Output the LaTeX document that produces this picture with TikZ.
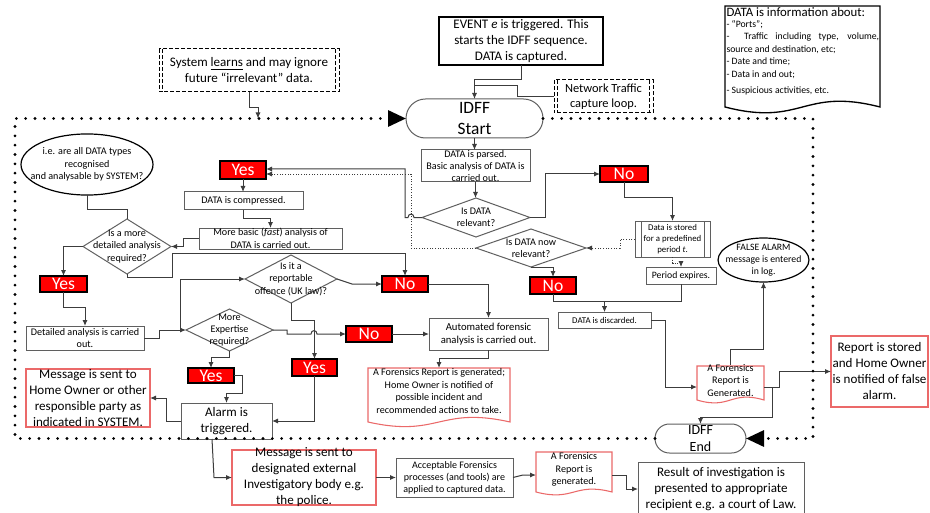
\documentclass[tikz,border=0pt]{standalone}
\usepackage{fontspec}
\setmainfont{Carlito}
\usetikzlibrary{arrows.meta}
\definecolor{cgray}{RGB}{95,95,95}
\definecolor{cline}{RGB}{60,60,60}
\definecolor{cred}{RGB}{235,105,105}
\newcommand\fzA{\fontsize{9.8}{12}\selectfont}
\newcommand\fzB{\fontsize{7.6}{9.3}\selectfont}
\newcommand\fzC{\fontsize{6.6}{8.2}\selectfont}
\newcommand\fzD{\fontsize{13}{15.5}\selectfont}
\newcommand\fzY{\fontsize{13.2}{13.5}\selectfont}
% box: name x1 y1 x2 y2 shapestyle nodeopts text
\newcommand\bx[8]{%
 \path[#6] (#2,#3) rectangle (#4,#5);
 \node[minimum width={(#4-#2)*0.75pt}, minimum height={(#5-#3)*0.75pt}, align=center, #7] (#1) at ({(#2+#4)/2},{(#3+#5)/2}) {#8};}
% diamond: name x1 y1 x2 y2 nodeopts text
\newcommand\dia[7]{%
 \draw[gline] ({(#2+#4)/2},#3) -- (#4,{(#3+#5)/2}) -- ({(#2+#4)/2},#5) -- (#2,{(#3+#5)/2}) -- cycle;
 \node[minimum width={(#4-#2)*0.75pt}, minimum height={(#5-#3)*0.75pt}, align=center, #6] (#1) at ({(#2+#4)/2},{(#3+#5)/2}) {#7};}
% document: name x1 y1 x2 yb a nodeopts text
\newcommand\docb[8]{%
 \draw[rline] (#2,#3) -- (#4,#3) -- (#4,#5) .. controls ({(#2+#4)/2},{#5-2*#6}) and ({(#2+#4)/2},{#5+2*#6}) .. (#2,#5) -- cycle;
 \node[minimum width={(#4-#2)*0.75pt}, minimum height={(#5-#6-#3)*0.75pt}, align=center, #7] (#1) at ({(#2+#4)/2},{(#3+#5-#6)/2}) {#8};}
\begin{document}
\begin{tikzpicture}[x=0.75pt,y=-0.75pt,
 every node/.style={inner sep=0pt,outer sep=0pt},
 gb/.style={draw=cgray,line width=0.75pt,fill=white},
 rb/.style={draw=cred,line width=0.8pt,fill=white},
 kb/.style={draw=black,line width=1.3pt,fill=white},
 redb/.style={draw=black,line width=1.3pt,fill=red},
 gline/.style={draw=cgray,line width=0.75pt},
 rline/.style={draw=cred,line width=0.8pt},
 dashbox/.style={draw=black,line width=0.75pt,dash pattern=on 3pt off 1.5pt},
 conn/.style={draw=cline,line width=0.75pt},
 arr/.style={conn,-{Latex[length=4.5pt,width=3.8pt]}},
 darr/.style={draw=cline,line width=0.6pt,dash pattern=on 0.8pt off 1.2pt,-{Latex[length=4.5pt,width=3.8pt]}},
 dotframe/.style={draw=black,line width=2.3pt,dash pattern=on 0pt off 7pt,line cap=round},
 redtxt/.style={font=\fzY,text=white}]
\useasboundingbox (0,0) rectangle (930,513);
\fill[white] (0,0) rectangle (930,513);

% ---------- top notes ----------
\bx{learn}{159}{49}{339}{92}{dashbox,fill=white}{font=\fzA}{System \underline{learns} and may ignore\\future “irrelevant” data.}
\draw[dashbox] (162.5,49) -- (162.5,92) (335.5,49) -- (335.5,92);
\bx{event}{439}{17}{603}{65}{kb}{font=\fzA}{EVENT \textit{e} is triggered. This\\starts the IDFF sequence.\\DATA is captured.}
\bx{net}{554}{80}{653}{113}{dashbox,fill=white}{font=\fontsize{9.3}{11.2}\selectfont}{Network Traffic\\capture loop.}
\draw[dashbox] (557.5,80) -- (557.5,113) (649.5,80) -- (649.5,113);
\bx{start}{406}{99}{543}{138}{gb,rounded corners=14.6pt}{font=\fzD}{IDFF\\Start}

% DATA info document
\draw[black,line width=1pt] (725,6) -- (880,6) -- (880,107) .. controls (802.5,87) and (802.5,127) .. (725,107) -- cycle;
\node[anchor=north west,text width=114.5pt,align=flush left] (info) at (726.5,7.5) {{\fontsize{9.6}{11}\selectfont DATA is information about:}\\[-1pt]
\fontsize{7.3}{9.3}\selectfont - “Ports”;\\\makebox[\linewidth][s]{- \ Traffic including type, volume,}\\source and destination, etc;\\- Date and time;\\- Data in and out;\\- Suspicious activities, etc.};

% ---------- central column ----------
\bx{parsed}{421}{150}{530}{182}{gb}{font=\fzB}{DATA is parsed.\\Basic analysis of DATA is\\carried out.}
\dia{dia5}{422}{198}{530}{237}{font=\fzB}{Is DATA\\relevant?}
\dia{dia4}{476}{229}{586}{267}{font=\fzB}{Is DATA now\\relevant?}
\bx{noR}{600}{166}{648}{182}{redb}{redtxt}{No}
\bx{dstore}{635}{221}{710}{257}{gb}{font=\fzC}{Data is stored\\for a predefined\\period \textit{t}.}
\draw[gline] (641,221) -- (641,257) (704,221) -- (704,257);
\bx{period}{646}{267}{716}{284}{gb}{font=\fontsize{7.3}{8.8}\selectfont}{Period expires.}
\bx{noL}{530}{277}{576}{294}{redb}{redtxt}{No}
\bx{discard}{558}{312}{651}{328}{gb}{font=\fzC}{DATA is discarded.}
\node[minimum width=68.25pt,minimum height=33pt,align=center,font=\fontsize{7.3}{8.8}\selectfont] (falseE) at (763.5,260) {FALSE ALARM\\message is entered\\in log.};
\draw[black,line width=0.9pt] (falseE.center) ellipse [x radius=34.1pt, y radius=16.5pt];
\docb{fdoc1}{697}{366}{764}{400}{5}{font=\fzB}{A Forensics\\Report is\\Generated.}
\bx{stored}{831}{336}{928}{407}{rb}{font=\fzA}{Report is stored\\and Home Owner\\is notified of false\\alarm.}
\bx{endn}{655}{424}{746}{453}{gb,rounded corners=10.8pt}{font=\fontsize{10.5}{12.6}\selectfont}{IDFF\\End}

% ---------- left part ----------
\node[minimum width=99pt,minimum height=45.75pt,align=center,font=\fzB] (ell1) at (87,164.5) {i.e. are all DATA types\\recognised\\and analysable by SYSTEM?};
\draw[black,line width=0.9pt] (ell1.center) ellipse [x radius=49.5pt, y radius=22.9pt];
\bx{yes1}{220}{161}{266}{179}{redb}{redtxt}{Yes}
\bx{comp}{184}{192}{303}{210}{gb}{font=\fzB}{DATA is compressed.}
\bx{basic}{199}{228}{342}{249}{gb}{font=\fzB}{More basic (\textit{fast}) analysis of\\DATA is carried out.}
\dia{dia1}{83}{219}{171}{274}{font=\fzB}{Is a more\\detailed analysis\\required?}
\bx{yes2}{40}{276}{87}{292}{redb}{redtxt}{Yes}
\bx{detail}{26}{326}{144}{350}{gb}{font=\fzB}{Detailed analysis is carried\\out.}
\dia{dia2}{245}{255}{337}{303}{font=\fzB}{Is it a\\reportable\\offence (UK law)?}
\bx{no1}{382}{276}{428}{292}{redb}{redtxt}{No}
\dia{dia3}{186}{309}{273}{351}{font=\fzB}{More\\Expertise\\required?}
\bx{no2}{346}{326}{392}{342}{redb}{redtxt}{No}
\bx{auto}{429}{318}{548}{350}{gb}{font=\fontsize{8}{9.6}\selectfont}{Automated forensic\\analysis is carried out.}
\docb{repdoc}{368}{368}{510}{422}{8}{font=\fzB}{A Forensics Report is generated;\\Home Owner is notified of\\possible incident and\\recommended actions to take.}
\bx{yes3}{188}{368}{234}{383}{redb}{redtxt}{Yes}
\bx{yes4}{292}{359}{337}{376}{redb}{redtxt}{Yes}
\bx{alarm}{181}{403}{272}{439}{gb}{font=\fzA}{Alarm is\\triggered.}
\bx{msgHO}{26}{369}{150}{427}{rb}{font=\fzA}{Message is sent to\\Home Owner or other\\responsible party as\\indicated in SYSTEM.}

% ---------- bottom row ----------
\bx{police}{232}{450}{376}{505}{rb}{font=\fzA}{Message is sent to\\designated external\\Investigatory body e.g.\\the police.}
\bx{accept}{396}{458}{513}{497}{gb}{font=\fontsize{7.5}{9}\selectfont}{Acceptable Forensics\\processes (and tools) are\\applied to captured data.}
\docb{fdoc2}{536}{452}{612}{492}{5}{font=\fzB}{A Forensics\\Report is\\generated.}
\bx{result}{638}{462}{804}{516}{gb}{font=\fzA}{Result of investigation is\\presented to appropriate\\recipient e.g. a court of Law.}

% ---------- connectors ----------
\coordinate (fr1) at (258,118.5);
\draw[arr] (learn.south) -- (249,108) -| (fr1);
\draw[arr] (event.south) -- (521,80) -| (start.north);
\draw[conn] (net.west) -- (517,96.5) -- (517,86) -- (start.north |- 0,86);
\draw[arr] (start.south) -- (start.south |- parsed.north);
\draw[arr] (parsed.south) -- (parsed.south |- dia5.north);
\draw[arr] (dia5.east) -- (545,217.5) |- (noR.west);
\draw[arr] (noR.south) -- (624,198) -| (dstore.north);
\draw[darr] (dstore.west) -- (620,239) |- (dia4.east);
\draw[darr] (dstore.south) -- (672.5,263) -| (period.north);
\draw[arr] (period.south) -- (681,301) -| (discard.north);
\draw[arr] (noL.south) -- (553,301) -| (discard.north);
\draw[arr] (dia4.south) -| (noL.north);
\draw[darr] (dia4.west) -- (411,248) -- (411,174) -- (yes1.east |- 0,174);
\draw[arr] (dia5.west) -- (414,217.5) .. controls (414,213) and (408,213) .. (408,217.5) -- (405,217.5) -- (405,169) -- (yes1.east |- 0,169);
\draw[conn] (ell1.south) -- (87,210) -| (dia1.north);
\draw[arr] (yes1.south) -- (yes1.south |- comp.north);
\draw[arr] (comp.south) -- (243.5,218) -| (basic.north);
\draw[arr] (basic.west) -- (183,238.5) |- (dia1.east);
\draw[arr] (dia1.west) -| (yes2.north);
\draw[arr] (yes2.south) -- (63.5,307) -| (detail.north);
\draw[arr] (dia1.south) -- (127,277) -- (172,277) -- (172,253) -| (no1.north);
\coordinate (j1) at (180,330);
\draw[arr] (detail.east) -- (159,338) -- (159,330) -- (dia3.west);
\draw[arr] (j1) -- (180,279) -- (dia2.west);
\draw[arr] (dia2.east) -- (352,284) -- (no1.west);
\draw[arr] (no1.east) -| (auto.north);
\draw[arr] (dia2.south) -- (291,320) -| (yes4.north);
\draw[arr] (dia3.east) -- (287,330) -- (287,334) -- (311,334) .. controls (311,329.5) and (317,329.5) .. (317,334) -- (no2.west);
\draw[arr] (no2.east) -- (auto.west);
\draw[arr] (auto.south) -- (488.5,358) -| (repdoc.north);
\draw[arr] (dia3.south) -- (229.5,357) -| (yes3.north);
\draw[arr] (yes3.east) -- (242,375.5) -- (242,393) -| (alarm.north);
\draw[arr] (yes4.south) |- (alarm.east);
\draw[arr] (alarm.west) -- (166,421) |- (msgHO.east);
\draw[arr] (alarm.south -| 212,0) -- (214,477.5) -- (police.west);
\draw[arr] (police.east) -- (accept.west);
\draw[arr] (accept.east) -- (523,475) -- (fdoc2.west |- 0,475);
\draw[arr] (fdoc2.east |- 0,475) -- (626,475) |- (result.west);
\draw[arr] (discard.east) -- (665,320) |- (fdoc1.west |- 0,387);
\draw[arr] (fdoc1.north -| 730,0) -- (730,349) -| (falseE.south);
\draw[arr] (fdoc1.east |- 0,387) -- (779,387) |- (stored.west);
\draw[arr] (772,387) -- (772,417) -| (endn.north);

% ---------- dotted loop ----------
\draw[dotframe,-{Triangle[length=13.5pt,width=12pt]}] (endn.west) -- (15,438.5) -- (15,118.5) -- (start.west);
\draw[dotframe,-{Triangle[length=13.5pt,width=12pt]}] (start.east) -- (813,118.5) -- (813,438.5) -- (endn.east);
\end{tikzpicture}
\end{document}
